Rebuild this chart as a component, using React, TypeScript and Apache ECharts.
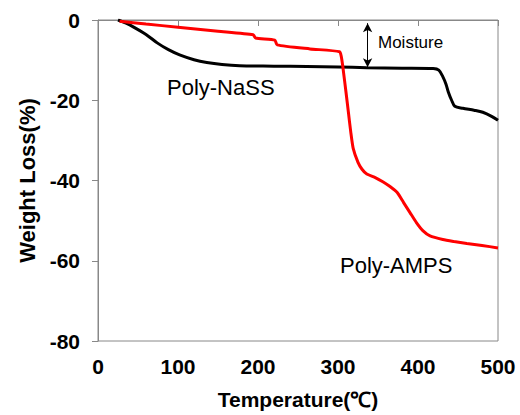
import React, { useEffect, useRef } from "react";
import * as echarts from "echarts";

const xTicks = [0, 100, 200, 300, 400, 500];
const yTicks = [0, -20, -40, -60, -80];

const nassTemp = [25, 35, 44, 60, 74, 88, 102, 120, 136, 155, 177, 220, 261, 300, 336, 380, 419, 426, 431, 435, 438, 442, 446, 456, 470, 481, 492, 500];
const nassLoss = [0, -0.8, -1.7, -3.6, -5.7, -7.4, -8.7, -9.9, -10.6, -11.1, -11.4, -11.5, -11.6, -11.7, -11.9, -12, -12.1, -12.5, -14.1, -16, -18, -20, -21.5, -22, -22.5, -23, -24, -25];

const ampsTemp = [27, 60, 100, 150, 194, 197, 221, 224, 265, 302, 304, 306, 310, 313, 316, 319, 325, 330, 336, 346, 356, 365, 374, 382, 390, 398, 406, 415, 431, 445, 461, 480, 500];
const ampsLoss = [-0.3, -1.0, -1.8, -2.8, -3.7, -4.5, -5, -6.2, -7.2, -7.9, -9, -11.6, -18, -23, -28, -32, -35.5, -37.2, -38.4, -39.2, -40.3, -41.5, -43, -45.5, -48, -50.5, -52.5, -53.8, -54.7, -55.2, -55.7, -56.2, -56.8];

const moistureX = 337;
const moistureTop = -0.8;
const moistureBottom = -11.8;

export default function App() {
  const ref = useRef<HTMLDivElement>(null);
  useEffect(() => {
    const chart = echarts.init(ref.current!, null, { renderer: "svg" });
    const font = "'Liberation Sans', Arial, sans-serif";
    chart.setOption({
      animation: false,
      backgroundColor: "#fff",
      grid: { left: 98, top: 20, right: 22, bottom: 72, show: true, borderColor: "#888", borderWidth: 1 },
      xAxis: {
        type: "value",
        min: xTicks[0],
        max: xTicks[xTicks.length - 1],
        interval: 100,
        name: "Temperature(℃)",
        nameLocation: "middle",
        nameGap: 48,
        nameTextStyle: { fontFamily: font, fontWeight: "bold", fontSize: 21, color: "#000" },
        axisLine: { lineStyle: { color: "#888", width: 1 } },
        axisTick: { show: true, length: 6, lineStyle: { color: "#888" } },
        axisLabel: { fontFamily: font, fontWeight: "bold", fontSize: 21, color: "#000", margin: 15 },
        splitLine: { show: false },
      },
      yAxis: {
        type: "value",
        min: yTicks[yTicks.length - 1],
        max: yTicks[0],
        interval: 20,
        name: "Weight Loss(%)",
        nameLocation: "middle",
        nameGap: 52,
        nameRotate: 90,
        nameTextStyle: { fontFamily: font, fontWeight: "bold", fontSize: 22, color: "#000" },
        axisLine: { show: true, lineStyle: { color: "#888", width: 1 } },
        axisTick: { show: true, length: 6, lineStyle: { color: "#888" } },
        axisLabel: { fontFamily: font, fontWeight: "bold", fontSize: 21, color: "#000", margin: 18 },
        splitLine: { show: false },
      },
      series: [
        {
          type: "line",
          name: "Poly-NaSS",
          data: nassTemp.map((t, i) => [t, nassLoss[i]]),
          showSymbol: false,
          smooth: 0.3,
          lineStyle: { color: "#000", width: 3 },
          markLine: {
            silent: true,
            symbol: ["arrow", "arrow"],
            symbolSize: [7, 9],
            label: { show: false },
            lineStyle: { color: "#000", width: 1, type: "solid" },
            data: [[{ coord: [moistureX, moistureTop] }, { coord: [moistureX, moistureBottom] }]],
          },
        },
        {
          type: "line",
          name: "Poly-AMPS",
          data: ampsTemp.map((t, i) => [t, ampsLoss[i]]),
          showSymbol: false,
          smooth: 0.2,
          lineStyle: { color: "#ff0000", width: 3 },
        },
      ],
      graphic: [
        { type: "text", x: 378, y: 34, style: { text: "Moisture", font: `17px ${font}`, fill: "#000" } },
        { type: "text", x: 167, y: 76, style: { text: "Poly-NaSS", font: `22px ${font}`, fill: "#000" } },
        { type: "text", x: 340, y: 254, style: { text: "Poly-AMPS", font: `22px ${font}`, fill: "#000" } },
      ],
    });
    return () => chart.dispose();
  }, []);
  return <div ref={ref} style={{ width: 520, height: 415, position: "absolute", left: 0, top: 0 }} />;
}
